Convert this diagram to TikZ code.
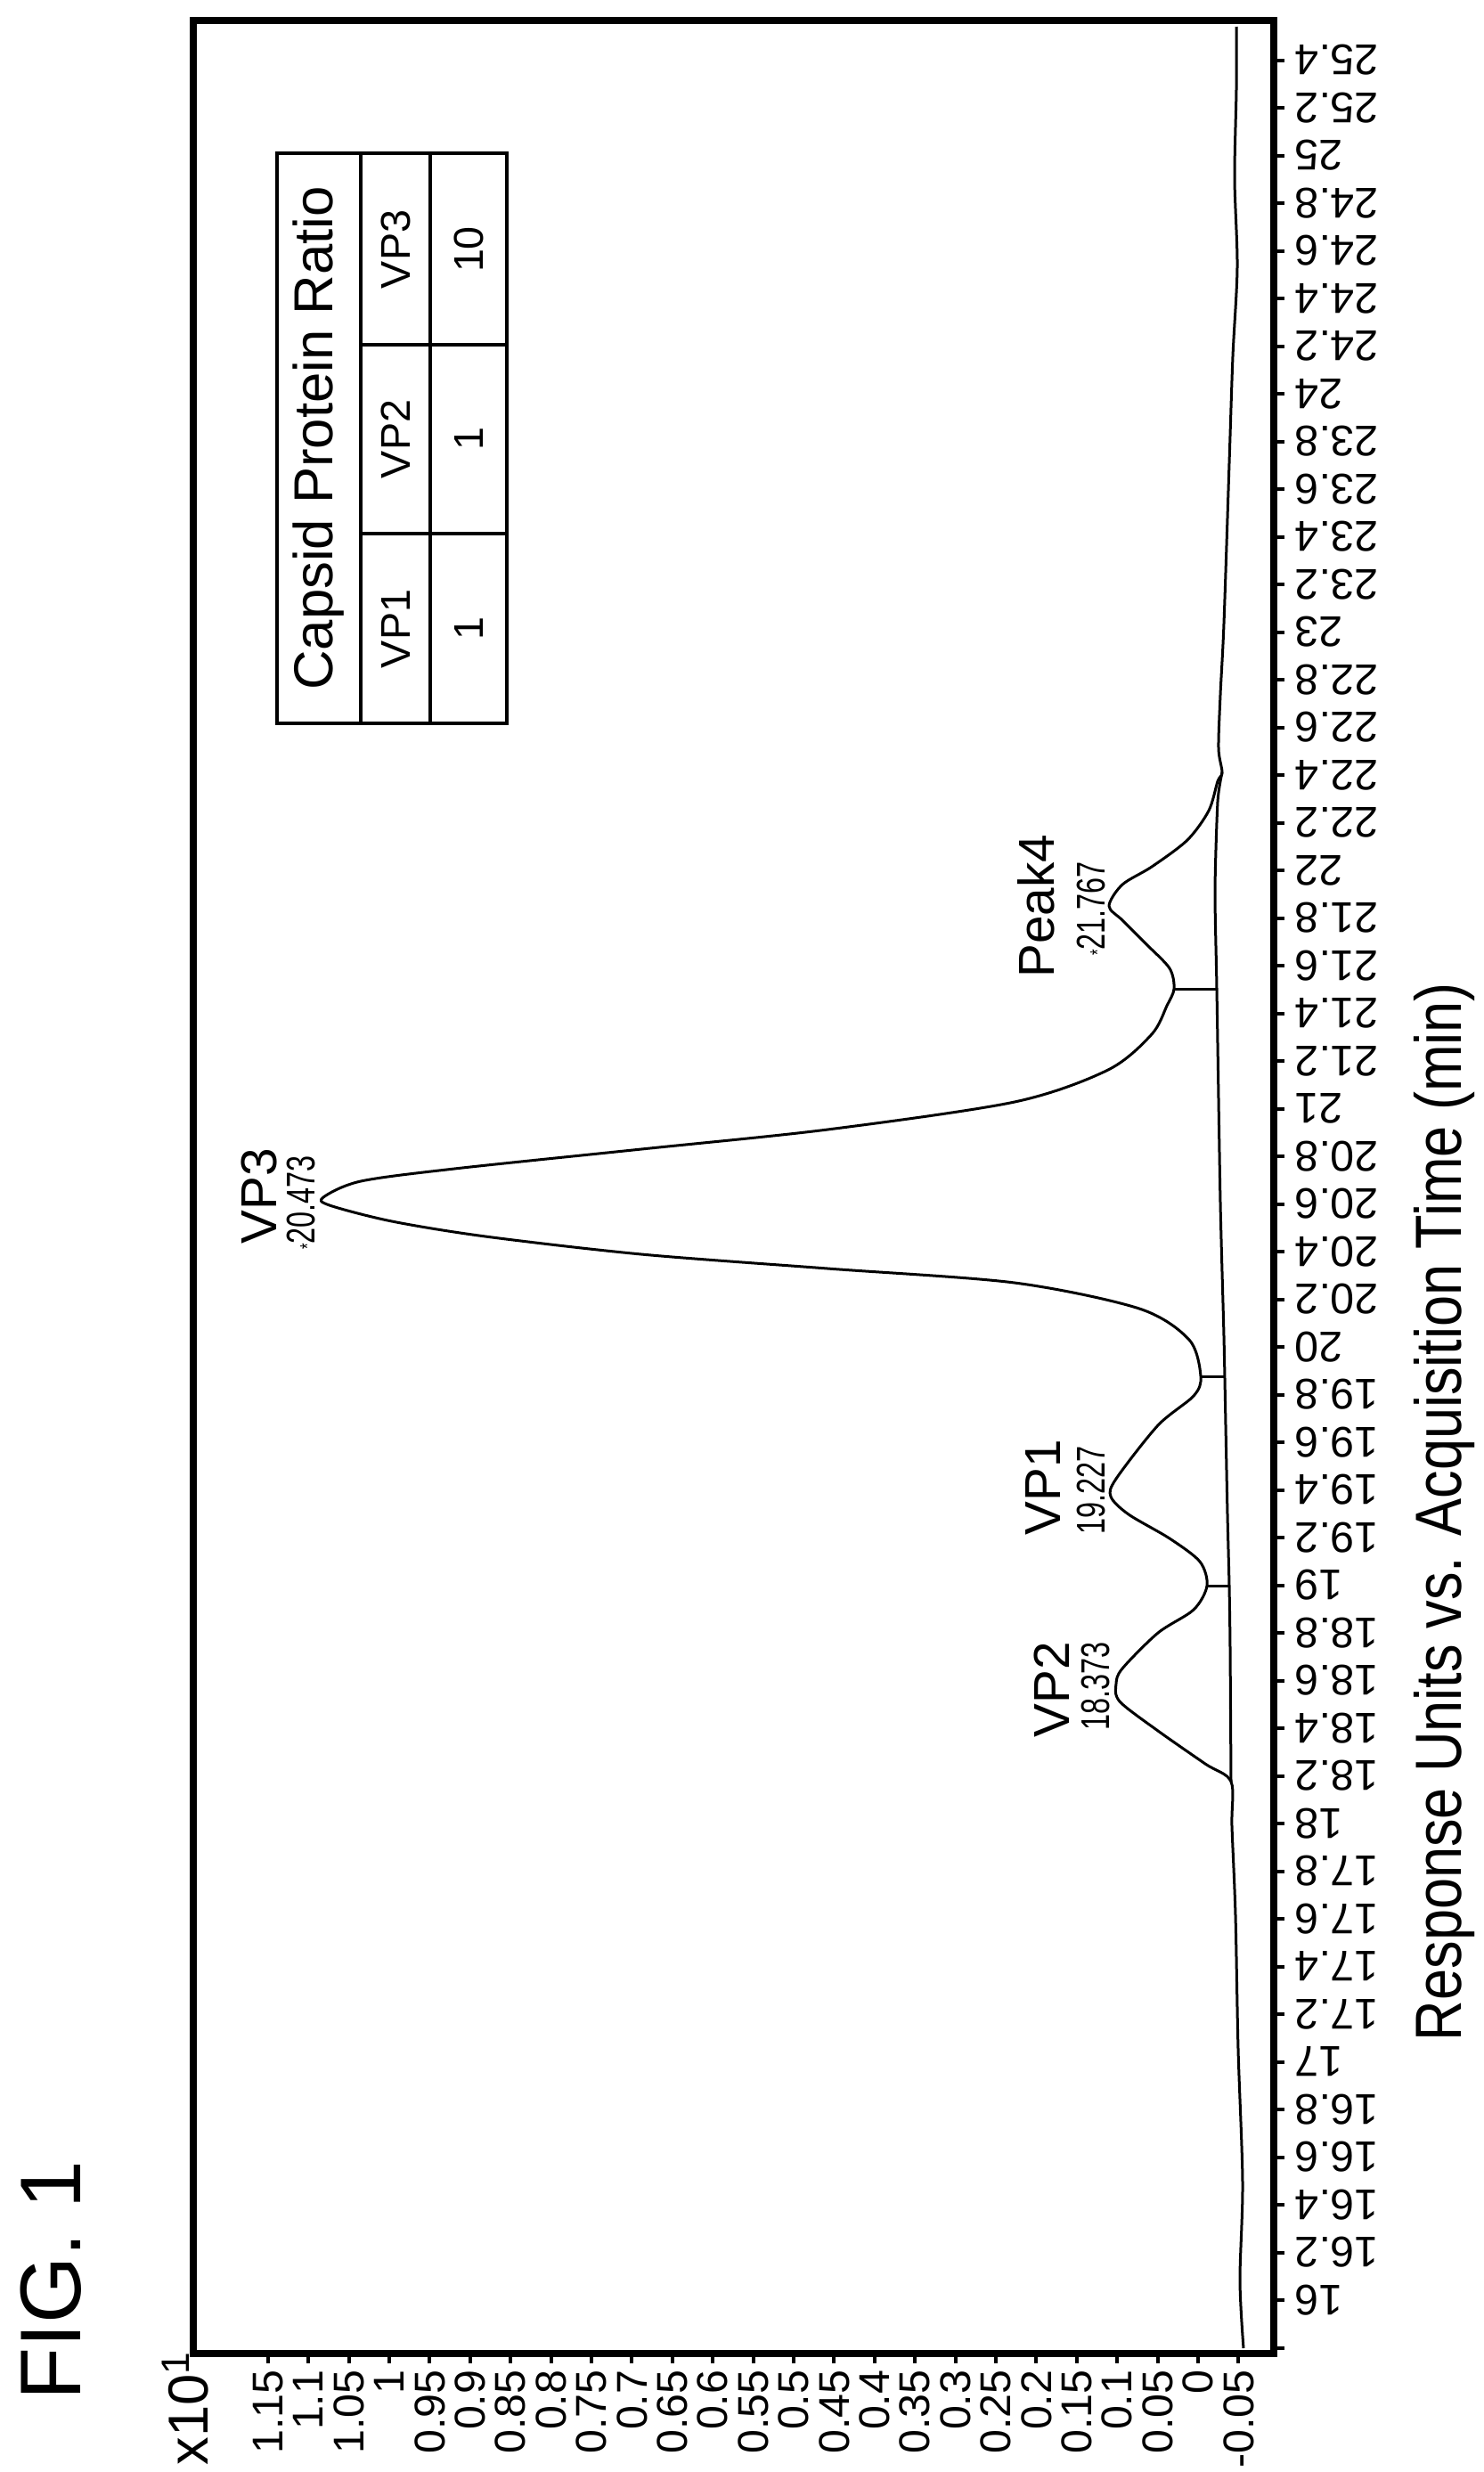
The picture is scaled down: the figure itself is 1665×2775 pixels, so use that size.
\documentclass[tikz,border=0pt]{standalone}
\usepackage{fontspec}
\setmainfont{Liberation Sans}
\newfontfamily\narrowfont[FakeStretch=0.72]{Liberation Sans}
\newfontfamily\titlefont[FakeStretch=0.86]{Liberation Sans}

\tikzset{
  frame/.style={line width=2.4pt},
  trace/.style={line width=0.9pt, line join=round},
  tick/.style={line width=1.2pt},
  ticklab/.style={font=\fontsize{14.5}{16}\selectfont, inner sep=0pt},
  peaklab/.style={rotate=90, anchor=base, inner sep=0pt, font=\fontsize{17}{19}\selectfont},
  rtlab/.style={rotate=90, anchor=base, inner sep=0pt, font=\narrowfont\fontsize{13.5}{15}\selectfont},
  cell/.style={rotate=90, inner sep=0pt, font=\fontsize{14}{16}\selectfont},
  grid/.style={line width=1pt}
}

\begin{document}
\begin{tikzpicture}[x=0.3pt,y=-0.3pt]
  \useasboundingbox (0,0) rectangle (1665,2775);

  % plot frame
  \draw[frame] (217,23) rectangle (1430,2642);

  % time axis (right side)
  \draw[tick] (1430,2636) -- (1442,2636);
  \foreach \lab [count=\i from 0] in {16,16.2,16.4,16.6,16.8,17,17.2,17.4,17.6,17.8,18,18.2,18.4,18.6,18.8,19,19.2,19.4,19.6,19.8,20,20.2,20.4,20.6,20.8,21,21.2,21.4,21.6,21.8,22,22.2,22.4,22.6,22.8,23,23.2,23.4,23.6,23.8,24,24.2,24.4,24.6,24.8,25,25.2,25.4}{
    \draw[tick] (1430,2582-\i*53.5) -- (1442,2582-\i*53.5);
    \node[ticklab, rotate=180, anchor=east] (t\i) at (1453,2582-\i*53.5) {\lab};
  }

  % response axis (bottom side)
  \foreach \lab [count=\i from 0] in {-0.05,0,0.05,0.1,0.15,0.2,0.25,0.3,0.35,0.4,0.45,0.5,0.55,0.6,0.65,0.7,0.75,0.8,0.85,0.9,0.95,1,1.05,1.1,1.15}{
    \draw[tick] (1390.4-\i*45.4,2642) -- (1390.4-\i*45.4,2653);
    \node[ticklab, rotate=90, anchor=east] (r\i) at (1390.4-\i*45.4,2660) {\lab};
  }
  \node[rotate=90, inner sep=0pt, font=\fontsize{19}{21}\selectfont] (scale) at (208,2703) {x10\textsuperscript{1}};

  % integration baseline
  \draw[trace] plot[smooth, tension=0.4] coordinates {(1382,2000) (1381,1850) (1380,1780) (1378,1700) (1376,1600) (1374,1500) (1370,1350) (1366,1110) (1364,1000) (1367,900) (1372,867)};

  % signal
  \draw[trace] plot[smooth, tension=0.5] coordinates {
    (1396,2636) (1392,2560) (1395,2450) (1390,2300) (1387,2150) (1383,2050) (1382,2000)
    (1353,1980) (1300,1943) (1257,1910) (1253,1890) (1260,1873) (1300,1833) (1340,1807) (1355,1780)
    (1347,1753) (1313,1727) (1267,1700) (1247,1680) (1253,1660) (1300,1600) (1340,1567) (1348,1545)
    (1335,1504) (1279,1469) (1139,1440) (929,1424) (720,1408) (545,1388) (440,1371) (370,1353)
    (363,1344) (405,1326) (510,1312) (720,1290) (929,1268) (1139,1237) (1244,1201) (1293,1161)
    (1310,1129) (1318,1110) (1313,1087) (1287,1060) (1260,1033) (1245,1017) (1260,993) (1293,973)
    (1333,943) (1357,910) (1367,877) (1372,867)
    (1368,840) (1370,780) (1374,700) (1380,520) (1384,400) (1389,300) (1386,200) (1388,100) (1388,30)};

  % drop lines
  \coordinate (v1) at (1355,1780);
  \coordinate (v2) at (1348,1545);
  \coordinate (v3) at (1318,1110);
  \draw[trace] (v1) -- (1380,1780);
  \draw[trace] (v2) -- (1376,1545);
  \draw[trace] (v3) -- (1366,1110);

  % peak labels
  \node[peaklab] (vp2) at (1200,1897) {VP2};
  \node[rtlab] (vp2t) at (1245,1893) {18.373};
  \node[peaklab] (vp1) at (1190,1670) {VP1};
  \node[rtlab] (vp1t) at (1240,1673) {19.227};
  \node[peaklab] (vp3) at (310,1343) {VP3};
  \node[rtlab] (vp3t) at (353,1350) {{\scriptsize*}20.473};
  \node[peaklab] (pk4) at (1183,1017) {Peak4};
  \node[rtlab] (pk4t) at (1240,1020) {{\scriptsize*}21.767};

  % ratio table
  \draw[grid] (311,172) rectangle (569,812);
  \draw[grid] (405,172) -- (405,812);
  \draw[grid] (483,172) -- (483,812);
  \draw[grid] (405,599) -- (569,599);
  \draw[grid] (405,387) -- (569,387);
  \node[cell, font=\fontsize{18.5}{20}\selectfont] (ratio) at (358,492) {Capsid Protein Ratio};
  \node[cell] (h1) at (444,706) {VP1};
  \node[cell] (h2) at (444,493) {VP2};
  \node[cell] (h3) at (444,280) {VP3};
  \node[cell] (c1) at (526,706) {1};
  \node[cell] (c2) at (526,493) {1};
  \node[cell] (c3) at (526,280) {10};

  % captions
  \node[rotate=90, anchor=base west, inner sep=0pt, font=\fontsize{29}{32}\selectfont] (fig) at (90,2695) {FIG. 1};
  \node[rotate=90, inner sep=0pt, font=\titlefont\fontsize{22}{24}\selectfont] (xtitle) at (1622,1697) {Response Units vs. Acquisition Time (min)};
\end{tikzpicture}
\end{document}
